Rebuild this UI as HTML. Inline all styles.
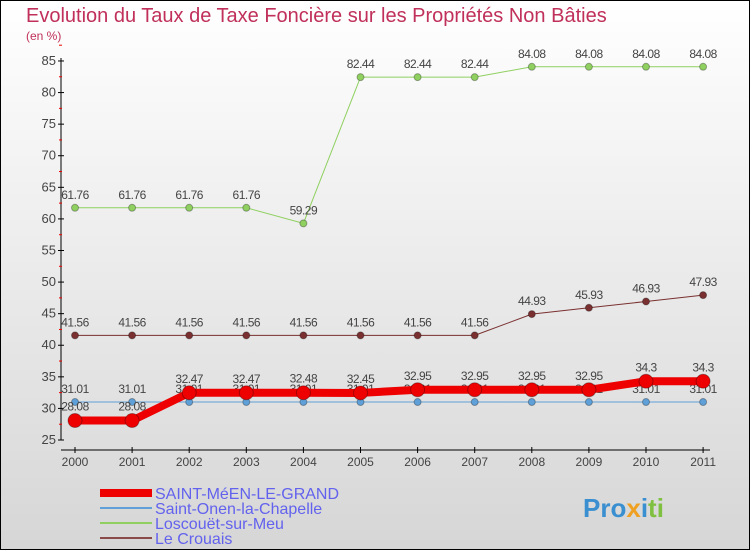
<!DOCTYPE html>
<html><head><meta charset="utf-8"><style>
body{margin:0}
svg text{font-family:"Liberation Sans",sans-serif}
</style></head><body>
<svg width="750" height="550" xmlns="http://www.w3.org/2000/svg">
<defs><linearGradient id="bg" x1="0" y1="0" x2="0" y2="1"><stop offset="0" stop-color="#ffffff"/><stop offset="1" stop-color="#d6d6d6"/></linearGradient></defs>
<rect x="0.5" y="0.5" width="749" height="549" fill="url(#bg)" stroke="#000"/>
<text x="26" y="22" font-size="20" fill="#c0305a">Evolution du Taux de Taxe Foncière sur les Propriétés Non Bâties</text>
<text x="26" y="40" font-size="12" fill="#c0305a">(en %)</text>
<g id="axes"></g>
<g id="series"></g>
<g id="legend">
<line x1="100" y1="493" x2="152" y2="493" stroke="#e00" stroke-width="8"/>
<text x="155" y="499" font-size="16" fill="#6262ee">SAINT-MéEN-LE-GRAND</text>
<line x1="100" y1="508" x2="152" y2="508" stroke="#5fa0d8" stroke-width="2"/>
<text x="155" y="514" font-size="16" fill="#6262ee">Saint-Onen-la-Chapelle</text>
<line x1="100" y1="523" x2="152" y2="523" stroke="#8fd060" stroke-width="2"/>
<text x="155" y="529" font-size="16" fill="#6262ee">Loscouët-sur-Meu</text>
<line x1="100" y1="538" x2="152" y2="538" stroke="#8a4a4a" stroke-width="2"/>
<text x="155" y="544" font-size="16" fill="#6262ee">Le Crouais</text>
</g>
<text x="583" y="517" font-size="26" font-weight="bold"><tspan fill="#3a8fd0">Pro</tspan><tspan fill="#f0a020">x</tspan><tspan fill="#3a8fd0">i</tspan><tspan fill="#80c040">ti</tspan></text>
</svg>
<script>
const years=["2000","2001","2002","2003","2004","2005","2006","2007","2008","2009","2010","2011"];
const yTicks=[25,30,35,40,45,50,55,60,65,70,75,80,85];
const saintMeen=[28.08,28.08,32.47,32.47,32.48,32.45,32.95,32.95,32.95,32.95,34.3,34.3];
const saintMeenLabels=["28.08","28.08","32.47","32.47","32.48","32.45","32.95","32.95","32.95","32.95","34.3","34.3"];
const saintOnen=[31.01,31.01,31.01,31.01,31.01,31.01,31.01,31.01,31.01,31.01,31.01,31.01];
const loscouet=[61.76,61.76,61.76,61.76,59.29,82.44,82.44,82.44,84.08,84.08,84.08,84.08];
const crouais=[41.56,41.56,41.56,41.56,41.56,41.56,41.56,41.56,44.93,45.93,46.93,47.93];
const NS="http://www.w3.org/2000/svg";
function X(i){return 75+i*57.1;}
function Y(v){return 440-(v-25)*6.317;}
function mk(tag,attrs,parent){const e=document.createElementNS(NS,tag);for(const k in attrs)e.setAttribute(k,attrs[k]);parent.appendChild(e);return e;}
const ax=document.getElementById('axes');
mk('line',{x1:61,y1:58,x2:61,y2:440,stroke:'#000'},ax);
mk('line',{x1:61,y1:450,x2:710,y2:450,stroke:'#000'},ax);
yTicks.forEach(v=>{const y=Y(v);
 mk('line',{x1:58,y1:y,x2:64,y2:y,stroke:'#000'},ax);
 mk('line',{x1:59,y1:Y(v+2.5),x2:62,y2:Y(v+2.5),stroke:'#e00'},ax);
 const t=mk('text',{x:56,y:y+4,'font-size':13,fill:'#444','text-anchor':'end'},ax);t.textContent=v;
 
 });
years.forEach((yr,i)=>{mk('line',{x1:X(i),y1:447,x2:X(i),y2:453,stroke:'#000'},ax);
 const t=mk('text',{x:X(i),y:466,'font-size':12,fill:'#444','text-anchor':'middle'},ax);t.textContent=yr;
 
 });
const sg=document.getElementById('series');
function series(vals,labels,color,w,r,name,dy){
 const g=mk('g',{},sg);
 
 
 mk('polyline',{points:vals.map((v,i)=>X(i)+','+Y(v)).join(' '),fill:'none',stroke:color,'stroke-width':w,'stroke-linejoin':'round'},g);
 vals.forEach((v,i)=>{const c=mk('circle',{cx:X(i),cy:Y(v),r:r,fill:color,stroke:'rgba(0,0,0,0.3)'},g);
  
  
  const t=mk('text',{x:X(i),y:Y(v)-dy,'font-size':12,fill:'#444','text-anchor':'middle','letter-spacing':'-0.5'},g);
  t.textContent=labels?labels[i]:v.toFixed(2).replace(/0$/,'');
  
  });
}
series(saintOnen,null,'#5fa0d8',1,3.5,'series-saint-onen',9);
series(loscouet,null,'#8fd060',1,3.5,'series-loscouet',9);
series(crouais,null,'#7a3030',1,3.5,'series-le-crouais',9);
series(saintMeen,saintMeenLabels,'#e00',8,7,'series-saint-meen',10);
</script>
</body></html>
